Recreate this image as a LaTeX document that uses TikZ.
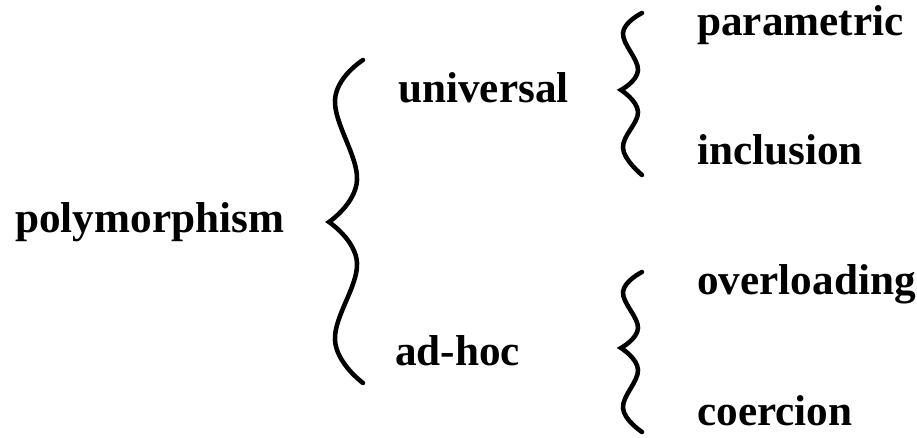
\documentclass[tikz,border=0pt]{standalone}
\usepackage{fontspec}
\setmainfont{Liberation Serif}
\begin{document}
\begin{tikzpicture}[x=0.75pt,y=-0.75pt,
  lbl/.style={anchor=base west,inner sep=0pt,font=\fontsize{32.4}{36}\selectfont\bfseries},
  brace/.style={line width=3.4pt,line join=miter,line cap=round}]
\useasboundingbox (0,0) rectangle (917,438);
\node[lbl] (poly) at (15,233) {polymorphism};
\node[lbl] (univ) at (398,103) {universal};
\node[lbl] (adhoc) at (395,365) {ad-hoc};
\node[lbl] (param) at (697,36) {parametric};
\node[lbl] (incl) at (697,165) {inclusion};
\node[lbl] (over) at (697,295) {overloading};
\node[lbl] (coer) at (697,425) {coercion};
% big brace
\draw[brace] plot[smooth,tension=0.7] coordinates {(363,60) (335,100) (357,180) (329,222)}
  -- plot[smooth,tension=0.7] coordinates {(329,222) (357,263) (335,340) (363,383)};
% upper small brace
\draw[brace] plot[smooth,tension=0.7] coordinates {(642,13) (623,33) (638,70) (621,90)}
  -- plot[smooth,tension=0.7] coordinates {(621,90) (638,112) (623,148) (642,175)};
% lower small brace
\draw[brace] plot[smooth,tension=0.7] coordinates {(642,272) (623,292) (638,328) (621,348)}
  -- plot[smooth,tension=0.7] coordinates {(621,348) (638,370) (623,408) (642,432)};
\end{tikzpicture}
\end{document}
